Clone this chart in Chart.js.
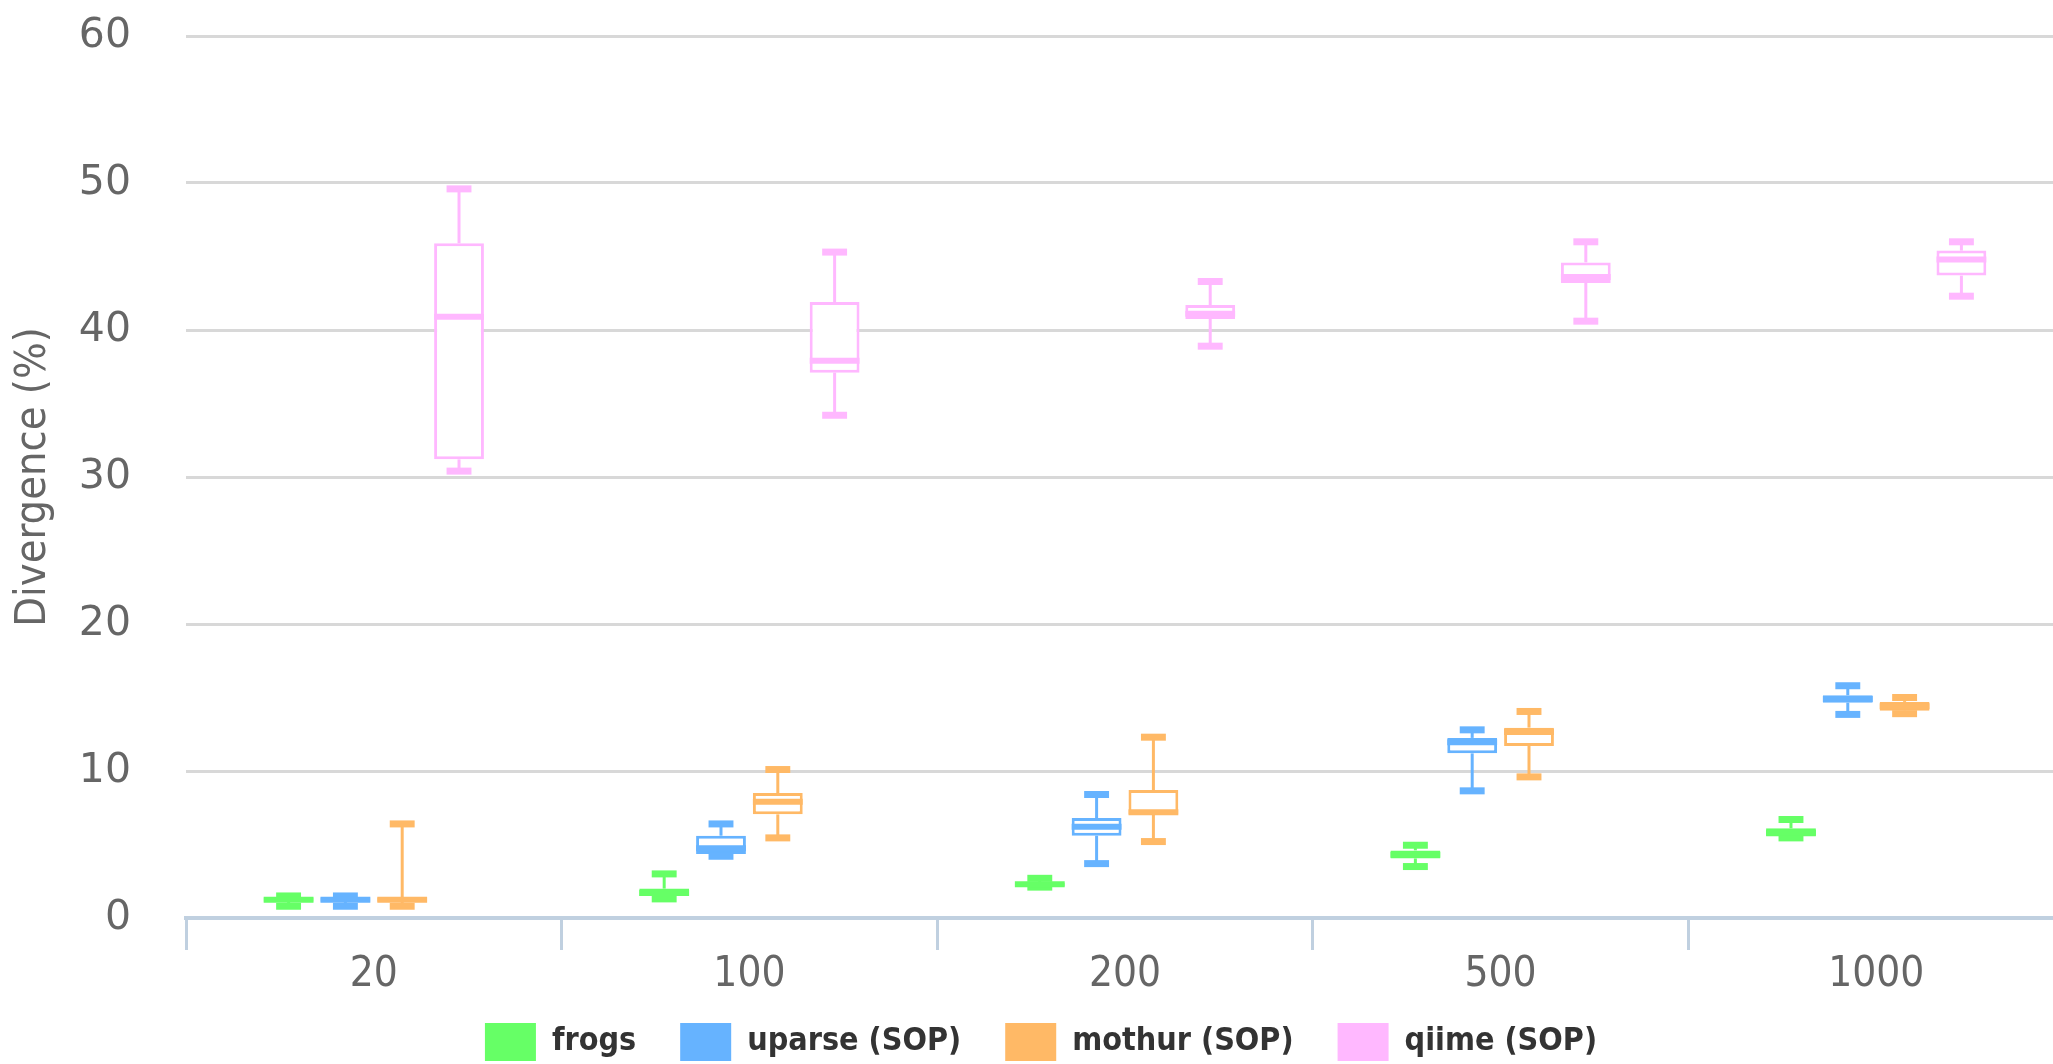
<!DOCTYPE html>
<html><head><meta charset="utf-8">
<script src="https://cdn.jsdelivr.net/npm/chart.js@4.4.1/dist/chart.umd.min.js"></script>
<style>
html,body{margin:0;padding:0;overflow:hidden;background:#fff;width:2053px;height:1064px}
#wrap{position:absolute;left:0;top:0;width:2082px;height:1071px}
canvas{display:block}
</style></head>
<body><div id="wrap"><canvas id="c" width="2082" height="1071" style="width:2082px;height:1071px"></canvas></div>
<script>
const categories = ['20', '100', '200', '500', '1000'];
const seriesNames = ['frogs', 'uparse (SOP)', 'mothur (SOP)', 'qiime (SOP)'];
const seriesColors = ['#66ff66', '#66b3ff', '#ffb966', '#ffb8ff'];
const yTicks = [0, 10, 20, 30, 40, 50, 60];

// five-number summaries per category: [low, q1, median, q3, high]
const frogs  = [[0.8, 1.1, 1.25, 1.4, 1.5], [1.3, 1.5, 1.7, 2.0, 3.0], [2.1, 2.15, 2.3, 2.4, 2.7], [3.5, 4.05, 4.3, 4.6, 4.95], [5.45, 5.55, 5.8, 6.1, 6.7]];
const uparse = [[0.8, 1.1, 1.25, 1.4, 1.5], [4.2, 4.35, 4.75, 5.6, 6.4], [3.7, 5.6, 6.2, 6.8, 8.4], [8.65, 11.2, 11.95, 12.25, 12.8], [13.85, 14.65, 14.9, 15.15, 15.8]];
const mothur = [[0.8, 1.1, 1.25, 1.4, 6.4], [5.45, 7.05, 7.9, 8.5, 10.1], [5.2, 7.05, 7.2, 8.7, 12.3], [9.6, 11.7, 12.65, 12.95, 14.05], [13.9, 14.1, 14.4, 14.7, 15.0]];
const qiime  = [[30.4, 31.2, 40.9, 45.9, 49.6], [34.2, 37.1, 37.9, 41.9, 45.3], [38.9, 40.75, 41.1, 41.7, 43.3], [40.6, 43.2, 43.6, 44.6, 46.0], [42.3, 43.7, 44.8, 45.4, 46.0]];

const allStats = [frogs, uparse, mothur, qiime];

const datasets = allStats.map((stats, i) => ({
  label: seriesNames[i],
  data: stats.map(s => [s[1], s[3]]),
  stats: stats,
  backgroundColor: '#ffffff',
  borderColor: seriesColors[i],
  borderWidth: 3,
  borderSkipped: false,
  categoryPercentage: 0.605,
  barPercentage: 0.877
}));

const boxWhisker = {
  id: 'boxWhisker',
  beforeDraw(chart) {
    // let the x tick labels extend below the (short) axis box without being clipped
    const xs = chart.scales.x;
    if (xs) xs.bottom = xs.top + 110;
  },
  afterDatasetsDraw(chart) {
    const ctx = chart.ctx;
    const ys = chart.scales.y;
    const seg = (x1, y1, x2, y2) => { ctx.beginPath(); ctx.moveTo(x1, y1); ctx.lineTo(x2, y2); ctx.stroke(); };
    chart.data.datasets.forEach((ds, i) => {
      const meta = chart.getDatasetMeta(i);
      meta.data.forEach((bar, j) => {
        const [low, q1, med, q3, high] = ds.stats[j];
        const x = bar.x, w = bar.width;
        const yl = ys.getPixelForValue(low), y1 = ys.getPixelForValue(q1);
        const ym = ys.getPixelForValue(med), y3 = ys.getPixelForValue(q3);
        const yh = ys.getPixelForValue(high);
        ctx.save();
        ctx.strokeStyle = ds.borderColor;
        ctx.lineCap = 'butt';
        ctx.lineWidth = 3;
        if (yh < y3) seg(x, yh, x, y3);
        if (yl > y1) seg(x, y1, x, yl);
        ctx.lineWidth = 7;
        const cw = w / 2;
        seg(x - cw / 2, yh, x + cw / 2, yh);
        seg(x - cw / 2, yl, x + cw / 2, yl);
        ctx.lineWidth = 6;
        seg(x - w / 2, ym, x + w / 2, ym);
        ctx.restore();
      });
    });
  }
};

const chart = new Chart(document.getElementById('c'), {
  type: 'bar',
  data: { labels: categories, datasets: datasets },
  plugins: [boxWhisker],
  options: {
    responsive: false,
    animation: false,
    devicePixelRatio: 1,
    layout: { padding: { top: 36, right: 18, left: 18, bottom: 0 } },
    plugins: {
      tooltip: { enabled: false },
      title: { display: false },
      legend: {
        position: 'bottom',
        labels: {
          boxWidth: 51, boxHeight: 38, padding: 44,
          color: '#333333',
          font: { family: 'DejaVu Sans Condensed', size: 32, weight: 'bold' },
          generateLabels(chart) {
            return chart.data.datasets.map((d, i) => ({
              text: d.label, fillStyle: seriesColors[i], strokeStyle: seriesColors[i],
              lineWidth: 0, hidden: false, datasetIndex: i, fontColor: '#333333'
            }));
          }
        }
      }
    },
    scales: {
      x: {
        type: 'category',
        offset: true,
        grid: { offset: true, drawOnChartArea: false, drawTicks: true, tickLength: 32, color: '#c0d0e0', lineWidth: 3 },
        border: { display: true, color: '#c0d0e0', width: 4 },
        ticks: { color: '#666666', padding: 0, font: { family: 'DejaVu Sans Condensed', size: 42 } },
        afterFit(s) { s.height = 61; }
      },
      y: {
        min: 0, max: 60,
        afterBuildTicks(s) { s.ticks = yTicks.map(v => ({ value: v })); },
        ticks: { color: '#666666', padding: 0, font: { family: 'DejaVu Sans', size: 41 } },
        grid: { color: '#d8d8d8', lineWidth: 3, drawTicks: true, tickLength: 55, tickColor: 'rgba(0,0,0,0)' },
        border: { display: false },
        title: { display: true, text: 'Divergence (%)', color: '#666666', padding: { top: -10, bottom: 0 },
                 font: { family: 'DejaVu Sans Condensed', size: 43 } },
        afterFit(s) { s.width = 168; }
      }
    }
  }
});

// place the plot top at the same height as the reference
for (let k = 0; k < 4; k++) {
  const d = chart.chartArea.top - 36;
  if (Math.abs(d) < 0.5) break;
  chart.options.layout.padding.top -= d;
  chart.update();
}
</script>
</body></html>
